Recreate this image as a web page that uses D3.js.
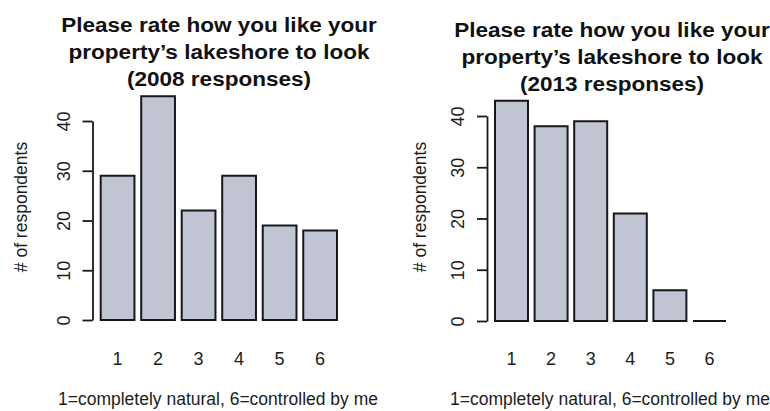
<!DOCTYPE html>
<html>
<head>
<meta charset="utf-8">
<script src="https://cdn.jsdelivr.net/npm/d3@7"></script>
<style>
  body { margin: 0; background: #fff; }
  svg text { font-family: 'Liberation Sans', Arial, Helvetica, sans-serif; fill: #1c1c1c; }
</style>
</head>
<body>
<div id="chart-area"></div>
<script>
let ratings = ['1', '2', '3', '4', '5', '6'];
let counts2008 = [29, 45, 22, 29, 19, 18];
let counts2013 = [43, 38, 39, 21, 6, 0];
let yTicks = [0, 10, 20, 30, 40];
let titleLines2008 = ['Please rate how you like your', 'property\u2019s lakeshore to look', '(2008 responses)'];
let titleLines2013 = ['Please rate how you like your', 'property\u2019s lakeshore to look', '(2013 responses)'];
let xTitle = '1=completely natural, 6=controlled by me';
let yTitle = '# of respondents';

let svgWidth = 770;
let svgHeight = 411;

let svg = d3.select('#chart-area')
    .append('svg')
        .attr('width', svgWidth)
        .attr('height', svgHeight);

// Panel geometry (axis x, bar range, y of 0 and 40, title)
let panels = [
    { counts: counts2008, title: titleLines2008, axisX: 92.5, barL: 100.7, barR: 337,
      y0: 320, y40: 121, titleX: 219, titleY: 32, xTitleX: 218, yTitleX: 27 },
    { counts: counts2013, title: titleLines2013, axisX: 487, barL: 495, barR: 726,
      y0: 321, y40: 116, titleX: 612, titleY: 37, xTitleX: 610, yTitleX: 426 }
];

panels.forEach(function(p) {
    let g = svg.append('g');

    // Scales
    let x = d3.scaleBand()
        .domain(ratings)
        .range([p.barL, p.barR])
        .paddingInner(1 / 6)
        .paddingOuter(0);
    let y = d3.scaleLinear()
        .domain([0, 40])
        .range([p.y0, p.y40]);

    // Bars (paths so a zero count still shows as a line)
    g.selectAll('path.bar')
        .data(p.counts)
        .enter()
        .append('path')
        .attr('class', 'bar')
        .attr('d', function(d, i) {
            let x0 = x(ratings[i]);
            return 'M' + x0 + ',' + y(0) + 'H' + (x0 + x.bandwidth()) +
                'V' + y(d) + 'H' + x0 + 'Z';
        })
        .attr('fill', '#c0c4d3')
        .attr('stroke', '#18181c')
        .attr('stroke-width', 2);

    // Y Axis
    let yAxisCall = d3.axisLeft(y)
        .tickValues(yTicks)
        .tickSize(10)
        .tickSizeOuter(0);
    let yAxis = g.append('g')
        .attr('transform', 'translate(' + p.axisX + ',0)')
        .call(yAxisCall);
    yAxis.selectAll('path, line')
        .attr('stroke', '#18181c')
        .attr('stroke-width', 1.8);
    yAxis.selectAll('text')
        .attr('transform', 'rotate(-90)')
        .attr('x', 0)
        .attr('y', -23)
        .attr('dy', 0)
        .attr('text-anchor', 'middle')
        .attr('font-size', '18px')
        .attr('fill', '#1c1c1c');

    // Bar names under each bar
    g.selectAll('text.name')
        .data(ratings)
        .enter()
        .append('text')
        .attr('class', 'name')
        .attr('x', function(d) { return x(d) + x.bandwidth() / 2; })
        .attr('y', 365)
        .attr('text-anchor', 'middle')
        .attr('font-size', '18px')
        .text(function(d) { return d; });

    // Labels
    g.append('text')
        .attr('x', p.xTitleX)
        .attr('y', 405)
        .attr('text-anchor', 'middle')
        .attr('font-size', '17.5px')
        .text(xTitle);
    g.append('text')
        .attr('transform', 'rotate(-90)')
        .attr('x', -207)
        .attr('y', p.yTitleX)
        .attr('text-anchor', 'middle')
        .attr('font-size', '17.5px')
        .text(yTitle);

    // Title, three lines, a little wider than the plain font
    let title = g.append('g')
        .attr('transform', 'translate(' + p.titleX + ',' + p.titleY + ') scale(1.1,1)');
    title.selectAll('text.title')
        .data(p.title)
        .enter()
        .append('text')
        .attr('class', 'title')
        .attr('x', 0)
        .attr('y', function(d, i) { return i * 27; })
        .attr('text-anchor', 'middle')
        .attr('font-size', '20.5px')
        .attr('font-weight', 'bold')
        .style('fill', '#111')
        .text(function(d) { return d; });
});
</script>
</body>
</html>
